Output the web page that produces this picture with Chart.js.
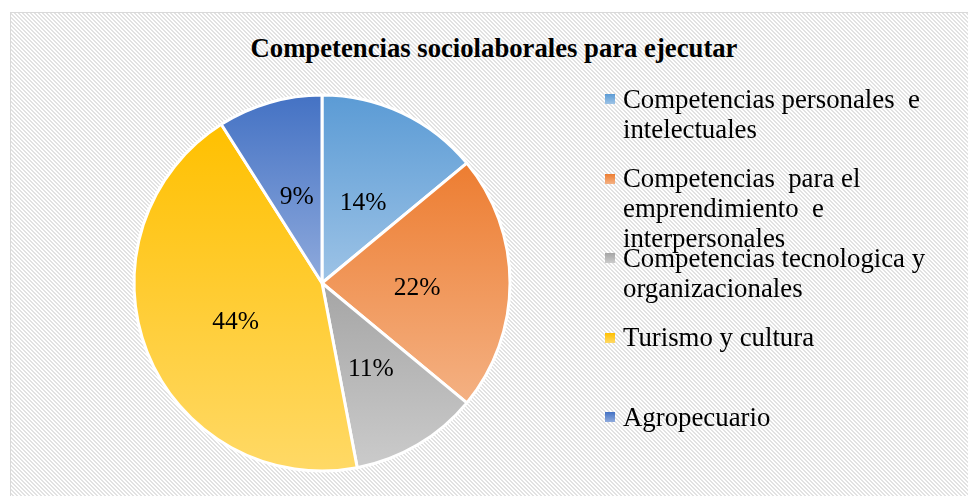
<!DOCTYPE html>
<html lang="es">
<head>
<meta charset="utf-8">
<title>Competencias sociolaborales para ejecutar</title>
<script src="https://cdn.jsdelivr.net/npm/chart.js@4.4.1/dist/chart.umd.min.js"></script>
<style>
    html, body { margin: 0; padding: 0; background: #fff; }
    body {
        width: 968px; height: 496px; position: relative; overflow: hidden;
        font-family: "Liberation Serif", "Times New Roman", serif; color: #000;
    }
    #frame {
        position: absolute; left: 10px; top: 12px; width: 990px; height: 520px;
        border: 1px solid #d9d9d9;
        background: repeating-linear-gradient(45deg, #ffffff 0 1.4px, #e2e2e2 1.4px 2.83px);
    }
    #chartTitle {
        position: absolute; left: 0; top: 33px; width: 988px;
        text-align: center; font-weight: bold; font-size: 26.7px; line-height: 30px;
    }
    #pieChart { position: absolute; left: 0; top: 0; }
    #legend { position: absolute; left: 605px; top: 83.5px; }
    .item { position: relative; height: 79.5px; }
    .swatch { position: absolute; left: 0; top: 10.5px; width: 10px; height: 10px; }
    .label {
        position: absolute; left: 18px; top: 0; width: 330px;
        font-size: 26.8px; line-height: 30px; white-space: pre-wrap;
    }
</style>
</head>
<body>
<div id="frame"></div>
<div id="chartTitle">Competencias sociolaborales para ejecutar</div>
<canvas id="pieChart" width="968" height="496"></canvas>
<div id="legend"></div>

<script>
// chart data
const categories = [
    "Competencias personales  e intelectuales",
    "Competencias  para el emprendimiento  e interpersonales",
    "Competencias tecnologica y organizacionales",
    "Turismo y cultura",
    "Agropecuario"
];
const values = [14, 22, 11, 44, 9];

// slice gradients (top -> bottom)
const topColors = ["#5b9bd5", "#ed7d31", "#a5a5a5", "#ffc000", "#4472c4"];
const bottomColors = ["#9dc3e6", "#f4b183", "#cbcbcb", "#ffd966", "#8faadc"];

const RADIUS = 188;
const total = values.reduce((a, b) => a + b, 0);

// vertical gradient fitted to each slice's own bounding box
function sliceGradient(context) {
    const i = context.dataIndex;
    const chart = context.chart;
    const area = chart.chartArea;
    if (i === undefined) return topColors[0];
    if (!area) return topColors[i];

    const cx = (area.left + area.right) / 2;
    const cy = (area.top + area.bottom) / 2;
    let before = 0;
    for (let k = 0; k < i; k++) before += values[k];
    const a0 = -Math.PI / 2 + 2 * Math.PI * before / total;
    const a1 = a0 + 2 * Math.PI * values[i] / total;

    const ys = [cy, cy + RADIUS * Math.sin(a0), cy + RADIUS * Math.sin(a1)];
    [-Math.PI / 2, Math.PI / 2, 3 * Math.PI / 2].forEach(a => {
        if (a >= a0 && a <= a1) ys.push(cy + RADIUS * Math.sin(a));
    });

    const g = chart.ctx.createLinearGradient(0, Math.min(...ys), 0, Math.max(...ys));
    g.addColorStop(0, topColors[i]);
    g.addColorStop(1, bottomColors[i]);
    return g;
}

// percentage labels in the middle of each slice
const percentLabels = {
    id: "percentLabels",
    afterDatasetsDraw(chart) {
        const ctx = chart.ctx;
        const meta = chart.getDatasetMeta(0);
        ctx.save();
        ctx.font = '25.5px "Liberation Serif", "Times New Roman", serif';
        ctx.fillStyle = "#000";
        ctx.textAlign = "center";
        ctx.textBaseline = "middle";
        meta.data.forEach((arc, i) => {
            const p = arc.tooltipPosition();
            ctx.fillText(Math.round(values[i] / total * 100) + "%", p.x + 1, p.y + 5);
        });
        ctx.restore();
    }
};

const ctx = document.getElementById("pieChart").getContext("2d");
new Chart(ctx, {
    type: "pie",
    data: {
        labels: categories,
        datasets: [{
            data: values,
            backgroundColor: sliceGradient,
            borderColor: "#ffffff",
            borderWidth: 3
        }]
    },
    options: {
        responsive: false,
        animation: false,
        radius: RADIUS,
        layout: { padding: { left: 130, right: 454, top: 95, bottom: 25 } },
        plugins: {
            legend: { display: false },
            title: { display: false },
            tooltip: { enabled: false }
        }
    },
    plugins: [percentLabels]
});

// legend on the right
const legend = document.getElementById("legend");
categories.forEach((name, i) => {
    const item = document.createElement("div");
    item.className = "item";
    const swatch = document.createElement("div");
    swatch.className = "swatch";
    swatch.style.background = `linear-gradient(${topColors[i]}, ${bottomColors[i]})`;
    const label = document.createElement("div");
    label.className = "label";
    label.textContent = name;
    item.appendChild(swatch);
    item.appendChild(label);
    legend.appendChild(item);
});
</script>
</body>
</html>
